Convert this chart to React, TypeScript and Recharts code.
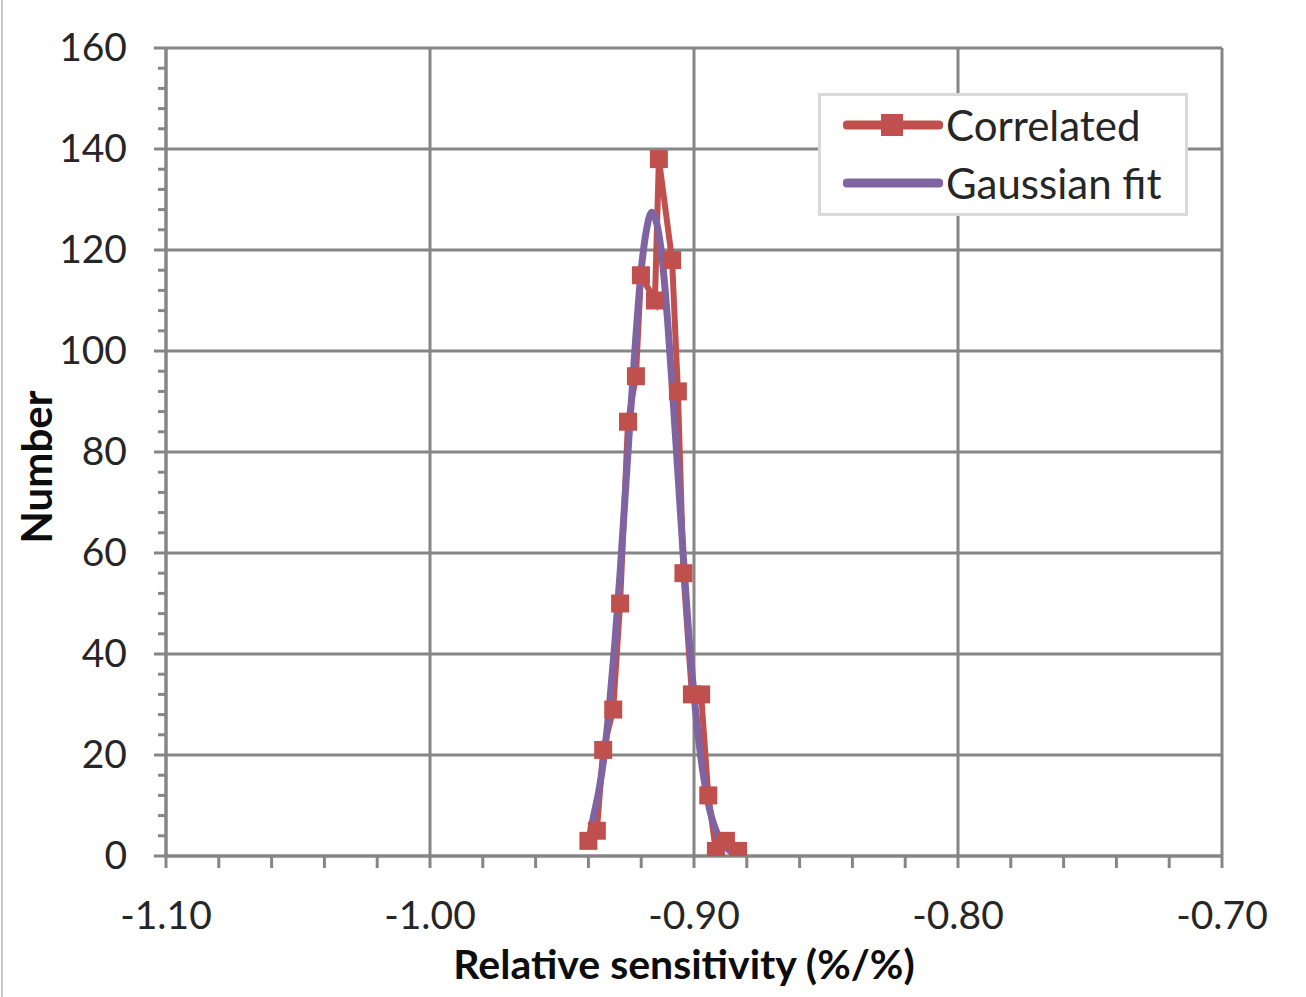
import React from "react";
import {
  LineChart, Line, XAxis, YAxis, CartesianGrid, Legend,
} from "recharts";

// measured histogram ("Correlated")
const CORR_X = [-0.9400, -0.9368, -0.9344, -0.9306, -0.9280, -0.9250, -0.9220, -0.9201, -0.9148, -0.9133, -0.9083, -0.9061, -0.9040, -0.9008, -0.8973, -0.8946, -0.8917, -0.8879, -0.8833];
const CORR_Y = [3, 5, 21, 29, 50, 86, 95, 115, 110, 138, 118, 92, 56, 32, 32, 12, 1, 3, 1];

// fitted curve
const FIT_X = [-0.9395, -0.938, -0.936, -0.934, -0.932, -0.930, -0.928, -0.926, -0.924, -0.922, -0.920, -0.918, -0.916, -0.914, -0.912, -0.910, -0.908, -0.906, -0.904, -0.902, -0.900, -0.898, -0.896, -0.894, -0.892, -0.890, -0.888, -0.886, -0.884, -0.882];
const FIT_Y = [4, 8, 13, 20, 30, 42, 56, 72, 88, 103, 116, 124, 127.5, 125, 118, 106, 91, 75, 59, 44, 32, 22, 14.5, 9, 5.5, 3.2, 1.8, 0.9, 0.5, 0.2];

const X_MAJOR = [-1.1, -1.0, -0.9, -0.8, -0.7];
const X_MINOR = [-1.1, -1.08, -1.06, -1.04, -1.02, -1.0, -0.98, -0.96, -0.94, -0.92, -0.9, -0.88, -0.86, -0.84, -0.82, -0.8, -0.78, -0.76, -0.74, -0.72, -0.7];
const Y_MAJOR = [0, 20, 40, 60, 80, 100, 120, 140, 160];
const Y_MINOR = Array.from({ length: 41 }, (_, i) => i * 4);

const corrData = CORR_X.map((x, i) => ({ x, y: CORR_Y[i] }));
const fitData = FIT_X.map((x, i) => ({ x, y: FIT_Y[i] }));

const RED = "#c0504d";
const PURPLE = "#8064a2";
const GRID = "#868686";
const FONT = "Lato, 'Open Sans', sans-serif";

const isMajorX = (v: number) => Math.round(v * 100) % 10 === 0;

function XTick({ x, y, payload }: any) {
  if (!isMajorX(payload.value)) return <g />;
  return (
    <text x={x} y={y + 61} textAnchor="middle" fontSize={39} fontFamily={FONT} fill="#262626">
      {payload.value.toFixed(2)}
    </text>
  );
}

function YTick({ x, y, payload }: any) {
  if (payload.value % 20 !== 0) return <g />;
  return (
    <g>
      <line x1={x - 4} x2={x} y1={y} y2={y} stroke={GRID} strokeWidth={3} />
      <text x={x - 31} y={y + 13} textAnchor="end" fontSize={39} fontFamily={FONT} fill="#262626">
        {payload.value}
      </text>
    </g>
  );
}

function SquareDot({ cx, cy }: any) {
  if (cx == null || cy == null) return <g />;
  return <rect x={cx - 9} y={cy - 9} width={18} height={18} fill={RED} />;
}

function LegendBox() {
  const row = (label: string, color: string, marker: boolean) => (
    <div style={{ display: "flex", alignItems: "center", height: 58 }}>
      <svg width={100} height={30} style={{ marginLeft: 22 }}>
        <line x1={4} x2={96} y1={15} y2={15} stroke={color} strokeWidth={9} strokeLinecap="round" />
        {marker && <rect x={38} y={4} width={22} height={22} fill={color} />}
      </svg>
      <span style={{ fontSize: 42, fontFamily: FONT, color: "#262626", marginLeft: 3 }}>{label}</span>
    </div>
  );
  return (
    <div style={{ width: 370, height: 123, boxSizing: "border-box", border: "3px solid #d9d9d9", background: "#fff" }}>
      {row("Correlated", RED, true)}
      {row("Gaussian fit", PURPLE, false)}
    </div>
  );
}

export default function App() {
  return (
    <div style={{ position: "absolute", left: 0, top: 0, width: 1306, height: 997, background: "#fff" }}>
      <div style={{ position: "absolute", left: 1, top: 0, width: 2, height: 997, background: "#c8c8c8" }} />
      <LineChart width={1306} height={997} margin={{ top: 48, right: 84, bottom: 81, left: 16 }}>
        <CartesianGrid xAxisId="grid" yAxisId="grid" stroke={GRID} strokeWidth={3} />
        <XAxis xAxisId="grid" type="number" dataKey="x" domain={[-1.1, -0.7]} ticks={X_MAJOR} hide allowDataOverflow />
        <YAxis yAxisId="grid" type="number" domain={[0, 160]} ticks={Y_MAJOR} hide allowDataOverflow />
        <XAxis
          type="number" dataKey="x" domain={[-1.1, -0.7]} ticks={X_MINOR} interval={0}
          allowDataOverflow height={60} tickSize={12} tickMargin={0}
          axisLine={{ stroke: GRID, strokeWidth: 3 }} tickLine={{ stroke: GRID, strokeWidth: 3 }}
          tick={<XTick />}
          label={{ value: "Relative sensitivity (%/%)", position: "bottom", offset: 34, dx: -10, style: { fontSize: 41, fontWeight: 700, fontFamily: FONT, fill: "#0d0d0d" } }}
        />
        <YAxis
          type="number" domain={[0, 160]} ticks={Y_MINOR} interval={0}
          allowDataOverflow width={150} tickSize={8} tickMargin={0}
          axisLine={{ stroke: GRID, strokeWidth: 3 }} tickLine={{ stroke: GRID, strokeWidth: 3 }}
          tick={<YTick />}
          label={{ value: "Number", angle: -90, position: "insideLeft", offset: 21, dy: 15, style: { textAnchor: "middle", fontSize: 42, fontWeight: 700, fontFamily: FONT, fill: "#0d0d0d" } }}
        />
        <Legend
          layout="vertical" align="center" verticalAlign="middle"
          content={<LegendBox />}
          wrapperStyle={{ position: "absolute", top: 93, left: 818, width: 370, height: 123 }}
        />
        <Line data={corrData} dataKey="y" type="linear" stroke={RED} strokeWidth={6}
          dot={<SquareDot />} isAnimationActive={false} name="Correlated" />
        <Line data={fitData} dataKey="y" type="monotone" stroke={PURPLE} strokeWidth={7}
          dot={false} isAnimationActive={false} name="Gaussian fit" strokeLinecap="round" />
      </LineChart>
    </div>
  );
}
